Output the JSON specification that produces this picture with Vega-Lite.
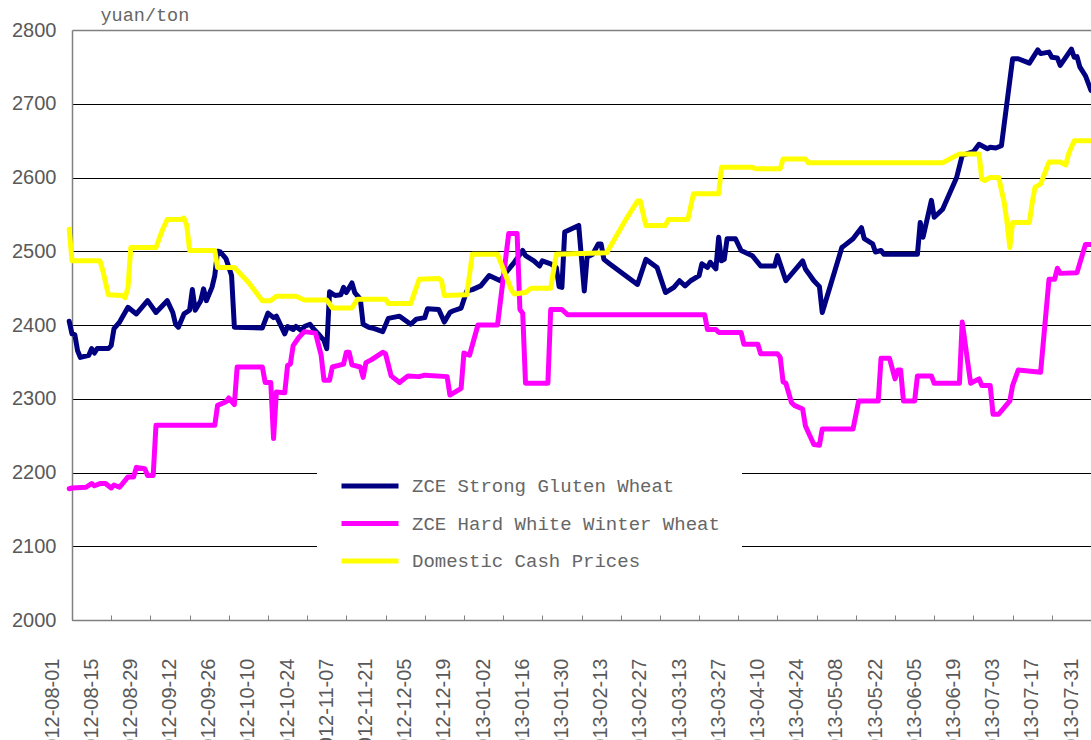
{
  "$schema": "https://vega.github.io/schema/vega-lite/v6.json",
  "width": 1019,
  "height": 590,
  "autosize": {"type": "none"},
  "padding": {"left": 72, "top": 30, "right": 0, "bottom": 120},
  "background": "white",
  "config": {"view": {"stroke": null}},
  "data": {"values": [
{"d":"2012-07-31","s":"ZCE Strong Gluten Wheat","v":2405},{"d":"2012-08-01","s":"ZCE Strong Gluten Wheat","v":2388},{"d":"2012-08-02","s":"ZCE Strong Gluten Wheat","v":2387},{"d":"2012-08-03","s":"ZCE Strong Gluten Wheat","v":2365},{"d":"2012-08-04","s":"ZCE Strong Gluten Wheat","v":2356},{"d":"2012-08-07","s":"ZCE Strong Gluten Wheat","v":2359},{"d":"2012-08-08","s":"ZCE Strong Gluten Wheat","v":2368},{"d":"2012-08-09","s":"ZCE Strong Gluten Wheat","v":2362},{"d":"2012-08-10","s":"ZCE Strong Gluten Wheat","v":2368},{"d":"2012-08-14","s":"ZCE Strong Gluten Wheat","v":2368},{"d":"2012-08-15","s":"ZCE Strong Gluten Wheat","v":2372},{"d":"2012-08-16","s":"ZCE Strong Gluten Wheat","v":2395},{"d":"2012-08-18","s":"ZCE Strong Gluten Wheat","v":2404},{"d":"2012-08-21","s":"ZCE Strong Gluten Wheat","v":2424},{"d":"2012-08-24","s":"ZCE Strong Gluten Wheat","v":2415},{"d":"2012-08-28","s":"ZCE Strong Gluten Wheat","v":2433},{"d":"2012-08-31","s":"ZCE Strong Gluten Wheat","v":2417},{"d":"2012-09-04","s":"ZCE Strong Gluten Wheat","v":2433},{"d":"2012-09-06","s":"ZCE Strong Gluten Wheat","v":2417},{"d":"2012-09-07","s":"ZCE Strong Gluten Wheat","v":2401},{"d":"2012-09-08","s":"ZCE Strong Gluten Wheat","v":2397},{"d":"2012-09-10","s":"ZCE Strong Gluten Wheat","v":2415},{"d":"2012-09-12","s":"ZCE Strong Gluten Wheat","v":2420},{"d":"2012-09-13","s":"ZCE Strong Gluten Wheat","v":2448},{"d":"2012-09-14","s":"ZCE Strong Gluten Wheat","v":2420},{"d":"2012-09-16","s":"ZCE Strong Gluten Wheat","v":2433},{"d":"2012-09-17","s":"ZCE Strong Gluten Wheat","v":2449},{"d":"2012-09-18","s":"ZCE Strong Gluten Wheat","v":2433},{"d":"2012-09-20","s":"ZCE Strong Gluten Wheat","v":2451},{"d":"2012-09-21","s":"ZCE Strong Gluten Wheat","v":2467},{"d":"2012-09-22","s":"ZCE Strong Gluten Wheat","v":2500},{"d":"2012-09-23","s":"ZCE Strong Gluten Wheat","v":2499},{"d":"2012-09-25","s":"ZCE Strong Gluten Wheat","v":2490},{"d":"2012-09-27","s":"ZCE Strong Gluten Wheat","v":2467},{"d":"2012-09-28","s":"ZCE Strong Gluten Wheat","v":2397},{"d":"2012-10-08","s":"ZCE Strong Gluten Wheat","v":2396},{"d":"2012-10-10","s":"ZCE Strong Gluten Wheat","v":2416},{"d":"2012-10-12","s":"ZCE Strong Gluten Wheat","v":2410},{"d":"2012-10-13","s":"ZCE Strong Gluten Wheat","v":2412},{"d":"2012-10-16","s":"ZCE Strong Gluten Wheat","v":2388},{"d":"2012-10-17","s":"ZCE Strong Gluten Wheat","v":2398},{"d":"2012-10-19","s":"ZCE Strong Gluten Wheat","v":2394},{"d":"2012-10-20","s":"ZCE Strong Gluten Wheat","v":2398},{"d":"2012-10-22","s":"ZCE Strong Gluten Wheat","v":2392},{"d":"2012-10-23","s":"ZCE Strong Gluten Wheat","v":2398},{"d":"2012-10-25","s":"ZCE Strong Gluten Wheat","v":2401},{"d":"2012-10-26","s":"ZCE Strong Gluten Wheat","v":2396},{"d":"2012-10-28","s":"ZCE Strong Gluten Wheat","v":2388},{"d":"2012-10-30","s":"ZCE Strong Gluten Wheat","v":2379},{"d":"2012-10-31","s":"ZCE Strong Gluten Wheat","v":2368},{"d":"2012-11-01","s":"ZCE Strong Gluten Wheat","v":2445},{"d":"2012-11-03","s":"ZCE Strong Gluten Wheat","v":2440},{"d":"2012-11-05","s":"ZCE Strong Gluten Wheat","v":2441},{"d":"2012-11-06","s":"ZCE Strong Gluten Wheat","v":2451},{"d":"2012-11-07","s":"ZCE Strong Gluten Wheat","v":2444},{"d":"2012-11-09","s":"ZCE Strong Gluten Wheat","v":2457},{"d":"2012-11-10","s":"ZCE Strong Gluten Wheat","v":2444},{"d":"2012-11-12","s":"ZCE Strong Gluten Wheat","v":2435},{"d":"2012-11-13","s":"ZCE Strong Gluten Wheat","v":2401},{"d":"2012-11-15","s":"ZCE Strong Gluten Wheat","v":2397},{"d":"2012-11-17","s":"ZCE Strong Gluten Wheat","v":2395},{"d":"2012-11-20","s":"ZCE Strong Gluten Wheat","v":2391},{"d":"2012-11-22","s":"ZCE Strong Gluten Wheat","v":2409},{"d":"2012-11-26","s":"ZCE Strong Gluten Wheat","v":2412},{"d":"2012-11-30","s":"ZCE Strong Gluten Wheat","v":2401},{"d":"2012-12-02","s":"ZCE Strong Gluten Wheat","v":2408},{"d":"2012-12-05","s":"ZCE Strong Gluten Wheat","v":2410},{"d":"2012-12-06","s":"ZCE Strong Gluten Wheat","v":2422},{"d":"2012-12-10","s":"ZCE Strong Gluten Wheat","v":2421},{"d":"2012-12-12","s":"ZCE Strong Gluten Wheat","v":2404},{"d":"2012-12-14","s":"ZCE Strong Gluten Wheat","v":2417},{"d":"2012-12-15","s":"ZCE Strong Gluten Wheat","v":2419},{"d":"2012-12-18","s":"ZCE Strong Gluten Wheat","v":2423},{"d":"2012-12-20","s":"ZCE Strong Gluten Wheat","v":2446},{"d":"2012-12-22","s":"ZCE Strong Gluten Wheat","v":2448},{"d":"2012-12-25","s":"ZCE Strong Gluten Wheat","v":2453},{"d":"2012-12-28","s":"ZCE Strong Gluten Wheat","v":2467},{"d":"2013-01-01","s":"ZCE Strong Gluten Wheat","v":2460},{"d":"2013-01-03","s":"ZCE Strong Gluten Wheat","v":2471},{"d":"2013-01-06","s":"ZCE Strong Gluten Wheat","v":2485},{"d":"2013-01-09","s":"ZCE Strong Gluten Wheat","v":2501},{"d":"2013-01-10","s":"ZCE Strong Gluten Wheat","v":2494},{"d":"2013-01-13","s":"ZCE Strong Gluten Wheat","v":2487},{"d":"2013-01-15","s":"ZCE Strong Gluten Wheat","v":2480},{"d":"2013-01-16","s":"ZCE Strong Gluten Wheat","v":2487},{"d":"2013-01-19","s":"ZCE Strong Gluten Wheat","v":2483},{"d":"2013-01-21","s":"ZCE Strong Gluten Wheat","v":2478},{"d":"2013-01-22","s":"ZCE Strong Gluten Wheat","v":2452},{"d":"2013-01-23","s":"ZCE Strong Gluten Wheat","v":2451},{"d":"2013-01-24","s":"ZCE Strong Gluten Wheat","v":2526},{"d":"2013-01-29","s":"ZCE Strong Gluten Wheat","v":2535},{"d":"2013-01-31","s":"ZCE Strong Gluten Wheat","v":2446},{"d":"2013-02-01","s":"ZCE Strong Gluten Wheat","v":2492},{"d":"2013-02-03","s":"ZCE Strong Gluten Wheat","v":2496},{"d":"2013-02-05","s":"ZCE Strong Gluten Wheat","v":2510},{"d":"2013-02-06","s":"ZCE Strong Gluten Wheat","v":2510},{"d":"2013-02-07","s":"ZCE Strong Gluten Wheat","v":2489},{"d":"2013-02-09","s":"ZCE Strong Gluten Wheat","v":2483},{"d":"2013-02-19","s":"ZCE Strong Gluten Wheat","v":2455},{"d":"2013-02-22","s":"ZCE Strong Gluten Wheat","v":2489},{"d":"2013-02-26","s":"ZCE Strong Gluten Wheat","v":2478},{"d":"2013-03-01","s":"ZCE Strong Gluten Wheat","v":2444},{"d":"2013-03-04","s":"ZCE Strong Gluten Wheat","v":2451},{"d":"2013-03-06","s":"ZCE Strong Gluten Wheat","v":2460},{"d":"2013-03-08","s":"ZCE Strong Gluten Wheat","v":2453},{"d":"2013-03-10","s":"ZCE Strong Gluten Wheat","v":2460},{"d":"2013-03-13","s":"ZCE Strong Gluten Wheat","v":2467},{"d":"2013-03-14","s":"ZCE Strong Gluten Wheat","v":2483},{"d":"2013-03-16","s":"ZCE Strong Gluten Wheat","v":2478},{"d":"2013-03-17","s":"ZCE Strong Gluten Wheat","v":2485},{"d":"2013-03-19","s":"ZCE Strong Gluten Wheat","v":2476},{"d":"2013-03-20","s":"ZCE Strong Gluten Wheat","v":2519},{"d":"2013-03-21","s":"ZCE Strong Gluten Wheat","v":2487},{"d":"2013-03-22","s":"ZCE Strong Gluten Wheat","v":2489},{"d":"2013-03-23","s":"ZCE Strong Gluten Wheat","v":2517},{"d":"2013-03-26","s":"ZCE Strong Gluten Wheat","v":2517},{"d":"2013-03-28","s":"ZCE Strong Gluten Wheat","v":2501},{"d":"2013-04-01","s":"ZCE Strong Gluten Wheat","v":2494},{"d":"2013-04-04","s":"ZCE Strong Gluten Wheat","v":2480},{"d":"2013-04-09","s":"ZCE Strong Gluten Wheat","v":2480},{"d":"2013-04-10","s":"ZCE Strong Gluten Wheat","v":2494},{"d":"2013-04-13","s":"ZCE Strong Gluten Wheat","v":2460},{"d":"2013-04-19","s":"ZCE Strong Gluten Wheat","v":2487},{"d":"2013-04-20","s":"ZCE Strong Gluten Wheat","v":2476},{"d":"2013-04-23","s":"ZCE Strong Gluten Wheat","v":2460},{"d":"2013-04-25","s":"ZCE Strong Gluten Wheat","v":2452},{"d":"2013-04-26","s":"ZCE Strong Gluten Wheat","v":2417},{"d":"2013-05-03","s":"ZCE Strong Gluten Wheat","v":2505},{"d":"2013-05-04","s":"ZCE Strong Gluten Wheat","v":2508},{"d":"2013-05-07","s":"ZCE Strong Gluten Wheat","v":2517},{"d":"2013-05-10","s":"ZCE Strong Gluten Wheat","v":2532},{"d":"2013-05-11","s":"ZCE Strong Gluten Wheat","v":2517},{"d":"2013-05-14","s":"ZCE Strong Gluten Wheat","v":2510},{"d":"2013-05-15","s":"ZCE Strong Gluten Wheat","v":2499},{"d":"2013-05-17","s":"ZCE Strong Gluten Wheat","v":2501},{"d":"2013-05-18","s":"ZCE Strong Gluten Wheat","v":2496},{"d":"2013-05-30","s":"ZCE Strong Gluten Wheat","v":2496},{"d":"2013-05-31","s":"ZCE Strong Gluten Wheat","v":2539},{"d":"2013-06-01","s":"ZCE Strong Gluten Wheat","v":2519},{"d":"2013-06-04","s":"ZCE Strong Gluten Wheat","v":2569},{"d":"2013-06-05","s":"ZCE Strong Gluten Wheat","v":2546},{"d":"2013-06-08","s":"ZCE Strong Gluten Wheat","v":2557},{"d":"2013-06-13","s":"ZCE Strong Gluten Wheat","v":2600},{"d":"2013-06-15","s":"ZCE Strong Gluten Wheat","v":2630},{"d":"2013-06-19","s":"ZCE Strong Gluten Wheat","v":2635},{"d":"2013-06-21","s":"ZCE Strong Gluten Wheat","v":2645},{"d":"2013-06-24","s":"ZCE Strong Gluten Wheat","v":2639},{"d":"2013-06-25","s":"ZCE Strong Gluten Wheat","v":2641},{"d":"2013-06-27","s":"ZCE Strong Gluten Wheat","v":2640},{"d":"2013-06-29","s":"ZCE Strong Gluten Wheat","v":2643},{"d":"2013-07-03","s":"ZCE Strong Gluten Wheat","v":2761},{"d":"2013-07-05","s":"ZCE Strong Gluten Wheat","v":2761},{"d":"2013-07-09","s":"ZCE Strong Gluten Wheat","v":2755},{"d":"2013-07-12","s":"ZCE Strong Gluten Wheat","v":2773},{"d":"2013-07-13","s":"ZCE Strong Gluten Wheat","v":2768},{"d":"2013-07-16","s":"ZCE Strong Gluten Wheat","v":2770},{"d":"2013-07-17","s":"ZCE Strong Gluten Wheat","v":2763},{"d":"2013-07-19","s":"ZCE Strong Gluten Wheat","v":2762},{"d":"2013-07-20","s":"ZCE Strong Gluten Wheat","v":2752},{"d":"2013-07-24","s":"ZCE Strong Gluten Wheat","v":2774},{"d":"2013-07-25","s":"ZCE Strong Gluten Wheat","v":2763},{"d":"2013-07-26","s":"ZCE Strong Gluten Wheat","v":2764},{"d":"2013-07-27","s":"ZCE Strong Gluten Wheat","v":2750},{"d":"2013-07-29","s":"ZCE Strong Gluten Wheat","v":2738},{"d":"2013-07-31","s":"ZCE Strong Gluten Wheat","v":2718},
{"d":"2012-07-31","s":"ZCE Hard White Winter Wheat","v":2178},{"d":"2012-08-01","s":"ZCE Hard White Winter Wheat","v":2179},{"d":"2012-08-06","s":"ZCE Hard White Winter Wheat","v":2180},{"d":"2012-08-08","s":"ZCE Hard White Winter Wheat","v":2185},{"d":"2012-08-09","s":"ZCE Hard White Winter Wheat","v":2182},{"d":"2012-08-11","s":"ZCE Hard White Winter Wheat","v":2185},{"d":"2012-08-13","s":"ZCE Hard White Winter Wheat","v":2185},{"d":"2012-08-15","s":"ZCE Hard White Winter Wheat","v":2179},{"d":"2012-08-16","s":"ZCE Hard White Winter Wheat","v":2183},{"d":"2012-08-18","s":"ZCE Hard White Winter Wheat","v":2180},{"d":"2012-08-21","s":"ZCE Hard White Winter Wheat","v":2194},{"d":"2012-08-23","s":"ZCE Hard White Winter Wheat","v":2194},{"d":"2012-08-24","s":"ZCE Hard White Winter Wheat","v":2207},{"d":"2012-08-27","s":"ZCE Hard White Winter Wheat","v":2205},{"d":"2012-08-28","s":"ZCE Hard White Winter Wheat","v":2196},{"d":"2012-08-30","s":"ZCE Hard White Winter Wheat","v":2196},{"d":"2012-08-31","s":"ZCE Hard White Winter Wheat","v":2264},{"d":"2012-09-21","s":"ZCE Hard White Winter Wheat","v":2264},{"d":"2012-09-22","s":"ZCE Hard White Winter Wheat","v":2291},{"d":"2012-09-25","s":"ZCE Hard White Winter Wheat","v":2296},{"d":"2012-09-26","s":"ZCE Hard White Winter Wheat","v":2301},{"d":"2012-09-28","s":"ZCE Hard White Winter Wheat","v":2292},{"d":"2012-09-29","s":"ZCE Hard White Winter Wheat","v":2343},{"d":"2012-10-08","s":"ZCE Hard White Winter Wheat","v":2343},{"d":"2012-10-09","s":"ZCE Hard White Winter Wheat","v":2322},{"d":"2012-10-11","s":"ZCE Hard White Winter Wheat","v":2322},{"d":"2012-10-12","s":"ZCE Hard White Winter Wheat","v":2246},{"d":"2012-10-13","s":"ZCE Hard White Winter Wheat","v":2309},{"d":"2012-10-16","s":"ZCE Hard White Winter Wheat","v":2308},{"d":"2012-10-17","s":"ZCE Hard White Winter Wheat","v":2345},{"d":"2012-10-18","s":"ZCE Hard White Winter Wheat","v":2347},{"d":"2012-10-19","s":"ZCE Hard White Winter Wheat","v":2372},{"d":"2012-10-21","s":"ZCE Hard White Winter Wheat","v":2383},{"d":"2012-10-23","s":"ZCE Hard White Winter Wheat","v":2391},{"d":"2012-10-27","s":"ZCE Hard White Winter Wheat","v":2389},{"d":"2012-10-29","s":"ZCE Hard White Winter Wheat","v":2359},{"d":"2012-10-30","s":"ZCE Hard White Winter Wheat","v":2325},{"d":"2012-11-01","s":"ZCE Hard White Winter Wheat","v":2325},{"d":"2012-11-02","s":"ZCE Hard White Winter Wheat","v":2343},{"d":"2012-11-06","s":"ZCE Hard White Winter Wheat","v":2347},{"d":"2012-11-07","s":"ZCE Hard White Winter Wheat","v":2363},{"d":"2012-11-08","s":"ZCE Hard White Winter Wheat","v":2363},{"d":"2012-11-09","s":"ZCE Hard White Winter Wheat","v":2346},{"d":"2012-11-12","s":"ZCE Hard White Winter Wheat","v":2343},{"d":"2012-11-13","s":"ZCE Hard White Winter Wheat","v":2329},{"d":"2012-11-14","s":"ZCE Hard White Winter Wheat","v":2349},{"d":"2012-11-16","s":"ZCE Hard White Winter Wheat","v":2353},{"d":"2012-11-20","s":"ZCE Hard White Winter Wheat","v":2363},{"d":"2012-11-21","s":"ZCE Hard White Winter Wheat","v":2361},{"d":"2012-11-23","s":"ZCE Hard White Winter Wheat","v":2331},{"d":"2012-11-26","s":"ZCE Hard White Winter Wheat","v":2322},{"d":"2012-11-29","s":"ZCE Hard White Winter Wheat","v":2331},{"d":"2012-12-03","s":"ZCE Hard White Winter Wheat","v":2330},{"d":"2012-12-05","s":"ZCE Hard White Winter Wheat","v":2332},{"d":"2012-12-13","s":"ZCE Hard White Winter Wheat","v":2330},{"d":"2012-12-14","s":"ZCE Hard White Winter Wheat","v":2305},{"d":"2012-12-18","s":"ZCE Hard White Winter Wheat","v":2314},{"d":"2012-12-19","s":"ZCE Hard White Winter Wheat","v":2362},{"d":"2012-12-21","s":"ZCE Hard White Winter Wheat","v":2359},{"d":"2012-12-24","s":"ZCE Hard White Winter Wheat","v":2400},{"d":"2012-12-31","s":"ZCE Hard White Winter Wheat","v":2400},{"d":"2013-01-04","s":"ZCE Hard White Winter Wheat","v":2524},{"d":"2013-01-07","s":"ZCE Hard White Winter Wheat","v":2524},{"d":"2013-01-08","s":"ZCE Hard White Winter Wheat","v":2421},{"d":"2013-01-09","s":"ZCE Hard White Winter Wheat","v":2416},{"d":"2013-01-10","s":"ZCE Hard White Winter Wheat","v":2321},{"d":"2013-01-18","s":"ZCE Hard White Winter Wheat","v":2321},{"d":"2013-01-19","s":"ZCE Hard White Winter Wheat","v":2421},{"d":"2013-01-23","s":"ZCE Hard White Winter Wheat","v":2421},{"d":"2013-01-25","s":"ZCE Hard White Winter Wheat","v":2414},{"d":"2013-03-15","s":"ZCE Hard White Winter Wheat","v":2414},{"d":"2013-03-16","s":"ZCE Hard White Winter Wheat","v":2394},{"d":"2013-03-19","s":"ZCE Hard White Winter Wheat","v":2394},{"d":"2013-03-20","s":"ZCE Hard White Winter Wheat","v":2390},{"d":"2013-03-28","s":"ZCE Hard White Winter Wheat","v":2390},{"d":"2013-03-29","s":"ZCE Hard White Winter Wheat","v":2374},{"d":"2013-04-03","s":"ZCE Hard White Winter Wheat","v":2374},{"d":"2013-04-04","s":"ZCE Hard White Winter Wheat","v":2361},{"d":"2013-04-10","s":"ZCE Hard White Winter Wheat","v":2361},{"d":"2013-04-11","s":"ZCE Hard White Winter Wheat","v":2356},{"d":"2013-04-12","s":"ZCE Hard White Winter Wheat","v":2323},{"d":"2013-04-13","s":"ZCE Hard White Winter Wheat","v":2321},{"d":"2013-04-15","s":"ZCE Hard White Winter Wheat","v":2295},{"d":"2013-04-16","s":"ZCE Hard White Winter Wheat","v":2291},{"d":"2013-04-19","s":"ZCE Hard White Winter Wheat","v":2286},{"d":"2013-04-20","s":"ZCE Hard White Winter Wheat","v":2263},{"d":"2013-04-23","s":"ZCE Hard White Winter Wheat","v":2238},{"d":"2013-04-25","s":"ZCE Hard White Winter Wheat","v":2237},{"d":"2013-04-26","s":"ZCE Hard White Winter Wheat","v":2259},{"d":"2013-05-07","s":"ZCE Hard White Winter Wheat","v":2259},{"d":"2013-05-09","s":"ZCE Hard White Winter Wheat","v":2297},{"d":"2013-05-16","s":"ZCE Hard White Winter Wheat","v":2297},{"d":"2013-05-17","s":"ZCE Hard White Winter Wheat","v":2355},{"d":"2013-05-20","s":"ZCE Hard White Winter Wheat","v":2355},{"d":"2013-05-22","s":"ZCE Hard White Winter Wheat","v":2327},{"d":"2013-05-23","s":"ZCE Hard White Winter Wheat","v":2339},{"d":"2013-05-24","s":"ZCE Hard White Winter Wheat","v":2339},{"d":"2013-05-25","s":"ZCE Hard White Winter Wheat","v":2297},{"d":"2013-05-29","s":"ZCE Hard White Winter Wheat","v":2297},{"d":"2013-05-30","s":"ZCE Hard White Winter Wheat","v":2331},{"d":"2013-06-04","s":"ZCE Hard White Winter Wheat","v":2331},{"d":"2013-06-05","s":"ZCE Hard White Winter Wheat","v":2321},{"d":"2013-06-14","s":"ZCE Hard White Winter Wheat","v":2321},{"d":"2013-06-15","s":"ZCE Hard White Winter Wheat","v":2404},{"d":"2013-06-18","s":"ZCE Hard White Winter Wheat","v":2321},{"d":"2013-06-21","s":"ZCE Hard White Winter Wheat","v":2327},{"d":"2013-06-22","s":"ZCE Hard White Winter Wheat","v":2318},{"d":"2013-06-25","s":"ZCE Hard White Winter Wheat","v":2318},{"d":"2013-06-26","s":"ZCE Hard White Winter Wheat","v":2279},{"d":"2013-06-28","s":"ZCE Hard White Winter Wheat","v":2279},{"d":"2013-07-02","s":"ZCE Hard White Winter Wheat","v":2297},{"d":"2013-07-03","s":"ZCE Hard White Winter Wheat","v":2318},{"d":"2013-07-05","s":"ZCE Hard White Winter Wheat","v":2339},{"d":"2013-07-13","s":"ZCE Hard White Winter Wheat","v":2336},{"d":"2013-07-16","s":"ZCE Hard White Winter Wheat","v":2462},{"d":"2013-07-18","s":"ZCE Hard White Winter Wheat","v":2462},{"d":"2013-07-19","s":"ZCE Hard White Winter Wheat","v":2477},{"d":"2013-07-20","s":"ZCE Hard White Winter Wheat","v":2470},{"d":"2013-07-26","s":"ZCE Hard White Winter Wheat","v":2471},{"d":"2013-07-29","s":"ZCE Hard White Winter Wheat","v":2509},{"d":"2013-07-31","s":"ZCE Hard White Winter Wheat","v":2509},
{"d":"2012-07-31","s":"Domestic Cash Prices","v":2530},{"d":"2012-08-01","s":"Domestic Cash Prices","v":2487},{"d":"2012-08-11","s":"Domestic Cash Prices","v":2487},{"d":"2012-08-12","s":"Domestic Cash Prices","v":2474},{"d":"2012-08-14","s":"Domestic Cash Prices","v":2441},{"d":"2012-08-19","s":"Domestic Cash Prices","v":2440},{"d":"2012-08-20","s":"Domestic Cash Prices","v":2437},{"d":"2012-08-21","s":"Domestic Cash Prices","v":2451},{"d":"2012-08-22","s":"Domestic Cash Prices","v":2505},{"d":"2012-08-31","s":"Domestic Cash Prices","v":2505},{"d":"2012-09-02","s":"Domestic Cash Prices","v":2526},{"d":"2012-09-04","s":"Domestic Cash Prices","v":2543},{"d":"2012-09-09","s":"Domestic Cash Prices","v":2543},{"d":"2012-09-10","s":"Domestic Cash Prices","v":2545},{"d":"2012-09-11","s":"Domestic Cash Prices","v":2535},{"d":"2012-09-12","s":"Domestic Cash Prices","v":2501},{"d":"2012-09-21","s":"Domestic Cash Prices","v":2501},{"d":"2012-09-22","s":"Domestic Cash Prices","v":2478},{"d":"2012-09-28","s":"Domestic Cash Prices","v":2478},{"d":"2012-10-03","s":"Domestic Cash Prices","v":2458},{"d":"2012-10-08","s":"Domestic Cash Prices","v":2433},{"d":"2012-10-11","s":"Domestic Cash Prices","v":2433},{"d":"2012-10-13","s":"Domestic Cash Prices","v":2439},{"d":"2012-10-20","s":"Domestic Cash Prices","v":2439},{"d":"2012-10-23","s":"Domestic Cash Prices","v":2434},{"d":"2012-10-31","s":"Domestic Cash Prices","v":2434},{"d":"2012-11-02","s":"Domestic Cash Prices","v":2423},{"d":"2012-11-09","s":"Domestic Cash Prices","v":2423},{"d":"2012-11-11","s":"Domestic Cash Prices","v":2435},{"d":"2012-11-21","s":"Domestic Cash Prices","v":2435},{"d":"2012-11-22","s":"Domestic Cash Prices","v":2429},{"d":"2012-11-30","s":"Domestic Cash Prices","v":2429},{"d":"2012-12-03","s":"Domestic Cash Prices","v":2462},{"d":"2012-12-10","s":"Domestic Cash Prices","v":2463},{"d":"2012-12-11","s":"Domestic Cash Prices","v":2460},{"d":"2012-12-12","s":"Domestic Cash Prices","v":2440},{"d":"2012-12-20","s":"Domestic Cash Prices","v":2441},{"d":"2012-12-22","s":"Domestic Cash Prices","v":2496},{"d":"2012-12-31","s":"Domestic Cash Prices","v":2496},{"d":"2013-01-05","s":"Domestic Cash Prices","v":2447},{"d":"2013-01-06","s":"Domestic Cash Prices","v":2442},{"d":"2013-01-10","s":"Domestic Cash Prices","v":2444},{"d":"2013-01-12","s":"Domestic Cash Prices","v":2450},{"d":"2013-01-19","s":"Domestic Cash Prices","v":2450},{"d":"2013-01-21","s":"Domestic Cash Prices","v":2496},{"d":"2013-02-08","s":"Domestic Cash Prices","v":2498},{"d":"2013-02-15","s":"Domestic Cash Prices","v":2544},{"d":"2013-02-19","s":"Domestic Cash Prices","v":2568},{"d":"2013-02-20","s":"Domestic Cash Prices","v":2568},{"d":"2013-02-22","s":"Domestic Cash Prices","v":2535},{"d":"2013-03-01","s":"Domestic Cash Prices","v":2535},{"d":"2013-03-02","s":"Domestic Cash Prices","v":2543},{"d":"2013-03-09","s":"Domestic Cash Prices","v":2543},{"d":"2013-03-11","s":"Domestic Cash Prices","v":2578},{"d":"2013-03-20","s":"Domestic Cash Prices","v":2578},{"d":"2013-03-21","s":"Domestic Cash Prices","v":2614},{"d":"2013-04-01","s":"Domestic Cash Prices","v":2614},{"d":"2013-04-02","s":"Domestic Cash Prices","v":2612},{"d":"2013-04-11","s":"Domestic Cash Prices","v":2612},{"d":"2013-04-12","s":"Domestic Cash Prices","v":2625},{"d":"2013-04-20","s":"Domestic Cash Prices","v":2625},{"d":"2013-04-21","s":"Domestic Cash Prices","v":2620},{"d":"2013-06-08","s":"Domestic Cash Prices","v":2620},{"d":"2013-06-14","s":"Domestic Cash Prices","v":2632},{"d":"2013-06-21","s":"Domestic Cash Prices","v":2632},{"d":"2013-06-22","s":"Domestic Cash Prices","v":2598},{"d":"2013-06-23","s":"Domestic Cash Prices","v":2596},{"d":"2013-06-25","s":"Domestic Cash Prices","v":2600},{"d":"2013-06-28","s":"Domestic Cash Prices","v":2600},{"d":"2013-06-30","s":"Domestic Cash Prices","v":2566},{"d":"2013-07-01","s":"Domestic Cash Prices","v":2539},{"d":"2013-07-02","s":"Domestic Cash Prices","v":2505},{"d":"2013-07-03","s":"Domestic Cash Prices","v":2539},{"d":"2013-07-09","s":"Domestic Cash Prices","v":2539},{"d":"2013-07-10","s":"Domestic Cash Prices","v":2566},{"d":"2013-07-11","s":"Domestic Cash Prices","v":2587},{"d":"2013-07-13","s":"Domestic Cash Prices","v":2591},{"d":"2013-07-16","s":"Domestic Cash Prices","v":2621},{"d":"2013-07-20","s":"Domestic Cash Prices","v":2621},{"d":"2013-07-22","s":"Domestic Cash Prices","v":2617},{"d":"2013-07-23","s":"Domestic Cash Prices","v":2632},{"d":"2013-07-25","s":"Domestic Cash Prices","v":2650},{"d":"2013-07-31","s":"Domestic Cash Prices","v":2650}
  ]},
  "mark": {"type": "line", "strokeWidth": 5, "strokeJoin": "round", "strokeCap": "round"},
  "encoding": {
    "x": {
      "field": "d",
      "type": "temporal",
      "scale": {"type": "utc", "domain": [{"year": 2012, "month": 8, "date": 1, "utc": true}, {"year": 2013, "month": 7, "date": 31, "utc": true}]},
      "axis": {
        "title": null,
        "format": "%Y-%m-%d",
        "values": [
          {"year":2012,"month":8,"date":1,"utc":true},{"year":2012,"month":8,"date":15,"utc":true},{"year":2012,"month":8,"date":29,"utc":true},{"year":2012,"month":9,"date":12,"utc":true},{"year":2012,"month":9,"date":26,"utc":true},{"year":2012,"month":10,"date":10,"utc":true},{"year":2012,"month":10,"date":24,"utc":true},{"year":2012,"month":11,"date":7,"utc":true},{"year":2012,"month":11,"date":21,"utc":true},{"year":2012,"month":12,"date":5,"utc":true},{"year":2012,"month":12,"date":19,"utc":true},{"year":2013,"month":1,"date":2,"utc":true},{"year":2013,"month":1,"date":16,"utc":true},{"year":2013,"month":1,"date":30,"utc":true},{"year":2013,"month":2,"date":13,"utc":true},{"year":2013,"month":2,"date":27,"utc":true},{"year":2013,"month":3,"date":13,"utc":true},{"year":2013,"month":3,"date":27,"utc":true},{"year":2013,"month":4,"date":10,"utc":true},{"year":2013,"month":4,"date":24,"utc":true},{"year":2013,"month":5,"date":8,"utc":true},{"year":2013,"month":5,"date":22,"utc":true},{"year":2013,"month":6,"date":5,"utc":true},{"year":2013,"month":6,"date":19,"utc":true},{"year":2013,"month":7,"date":3,"utc":true},{"year":2013,"month":7,"date":17,"utc":true},{"year":2013,"month":7,"date":31,"utc":true}
        ],
        "labelAngle": 270,
        "labelOffset": -20,
        "labelPadding": 43,
        "labelFont": "Liberation Sans",
        "labelFontSize": 20,
        "labelColor": "#595959",
        "labelOverlap": false,
        "labelBound": false,
        "labelFlush": false,
        "grid": false,
        "ticks": true,
        "tickSize": -5,
        "tickColor": "#808080",
        "tickWidth": 1,
        "domainColor": "#808080",
        "domainWidth": 1.5
      }
    },
    "y": {
      "field": "v",
      "type": "quantitative",
      "scale": {"domain": [2000, 2800], "zero": false, "nice": false},
      "axis": {
        "title": "yuan/ton",
        "titleAngle": 0,
        "titleX": 28,
        "titleY": -16,
        "titleAlign": "left",
        "titleBaseline": "middle",
        "titleFont": "Liberation Mono",
        "titleFontSize": 18.5,
        "titleFontWeight": "normal",
        "titleColor": "#666666",
        "values": [2000, 2100, 2200, 2300, 2400, 2500, 2600, 2700, 2800],
        "format": "d",
        "labelFont": "Liberation Sans",
        "labelFontSize": 20,
        "labelColor": "#595959",
        "labelPadding": 16,
        "ticks": false,
        "grid": true,
        "gridColor": {"condition": {"test": "datum.value === 2800", "value": "#808080"}, "value": "#000000"},
        "gridWidth": {"condition": {"test": "datum.value === 2800", "value": 1.5}, "value": 1},
        "domainColor": "#808080",
        "domainWidth": 1.5
      }
    },
    "color": {
      "field": "s",
      "type": "nominal",
      "scale": {
        "domain": ["ZCE Strong Gluten Wheat", "ZCE Hard White Winter Wheat", "Domestic Cash Prices"],
        "range": ["#000080", "#FF00FF", "#FFFF00"]
      },
      "legend": {
        "title": null,
        "orient": "none",
        "legendX": 245,
        "legendY": 422,
        "fillColor": "white",
        "strokeColor": null,
        "padding": 22,
        "symbolType": "M-3,0H3",
        "symbolSize": 361,
        "symbolOffset": 19,
        "symbolStrokeWidth": 5,
        "labelFont": "Liberation Mono",
        "labelFontSize": 19,
        "labelColor": "#666666",
        "labelOffset": 30,
        "labelLimit": 0,
        "rowPadding": 15.5
      }
    }
  }
}
